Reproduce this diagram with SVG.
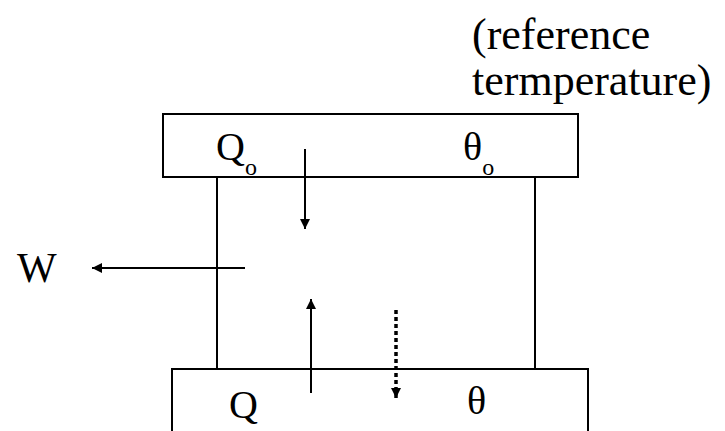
<svg xmlns="http://www.w3.org/2000/svg" width="725" height="431" viewBox="0 0 725 431">
<defs>
<style>
.box{fill:#fff;stroke:#000;stroke-width:2}
.ln{stroke:#000;stroke-width:2;fill:none}
.ar{stroke:#000;stroke-width:2;fill:none;marker-end:url(#ah)}
.dot{stroke:#000;stroke-width:3.5;fill:none;stroke-dasharray:4 3;marker-end:url(#ah2)}
text{font-family:"Liberation Serif","Times New Roman",serif;fill:#000}
.t{font-size:40px}
.w{font-size:42px}
.l{font-size:44px}
.s{font-size:24px}
</style>
<marker id="ah" viewBox="0 0 10 10" refX="10" refY="5" markerWidth="5" markerHeight="5" orient="auto" markerUnits="strokeWidth"><path d="M0,0L10,5L0,10z" fill="#000"/></marker>
<marker id="ah2" viewBox="0 0 10 10" refX="10" refY="5" markerWidth="3" markerHeight="3" orient="auto" markerUnits="strokeWidth"><path d="M0,0L10,5L0,10z" fill="#000"/></marker>
</defs>
<g id="body">
<line class="ln" x1="217" y1="177" x2="217" y2="369"/>
<line class="ln" x1="535" y1="177" x2="535" y2="369"/>
</g>
<g id="reservoir-top">
<rect class="box" x="163" y="114" width="415" height="63"/>
<text class="t" x="216" y="160">Q<tspan class="s" dy="15">o</tspan></text>
<text class="t" x="463" y="160">θ<tspan class="s" dy="15">o</tspan></text>
</g>
<g id="reservoir-bottom">
<rect class="box" x="172" y="369" width="416" height="80"/>
<text class="t" x="229" y="418">Q</text>
<text class="t" x="467" y="414">θ</text>
</g>
<g id="labels">
<text class="w" x="17" y="282">W</text>
<text class="l" x="472" y="49">(reference</text>
<text class="l" x="472" y="95">termperature)</text>
</g>
<g id="connectors">
<line class="ar" x1="305" y1="149" x2="305" y2="229"/>
<line class="ar" x1="245" y1="268" x2="92" y2="268"/>
<line class="ar" x1="311" y1="393" x2="311" y2="299"/>
<line class="dot" x1="396" y1="310" x2="396" y2="398"/>
</g>
</svg>
